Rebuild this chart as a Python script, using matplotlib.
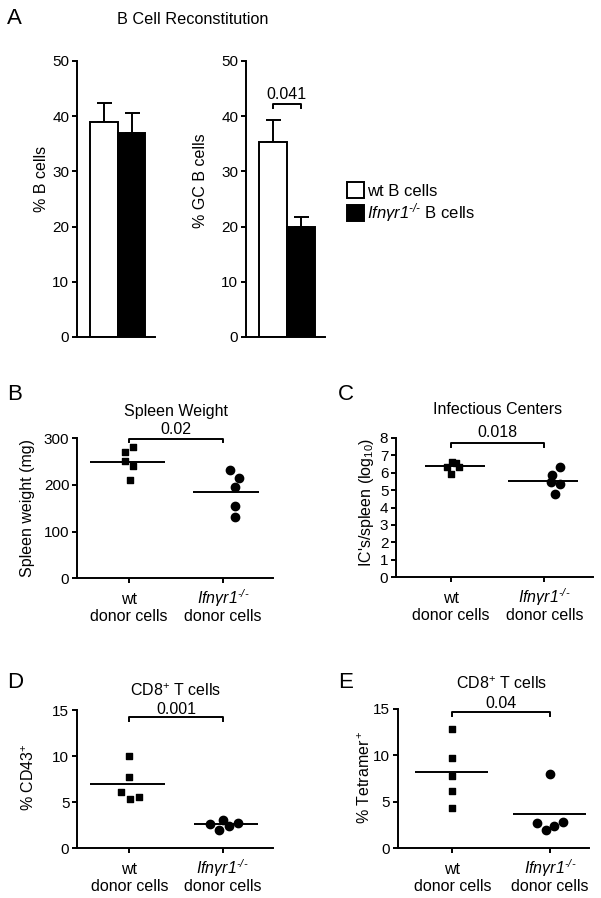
import matplotlib
matplotlib.use("Agg")
import matplotlib.pyplot as plt
from matplotlib.patches import Patch
from matplotlib.transforms import offset_copy

plt.rcParams['font.family'] = ['Liberation Sans', 'DejaVu Sans']
plt.rcParams['mathtext.fontset'] = 'custom'
plt.rcParams['mathtext.rm'] = 'Liberation Sans'
plt.rcParams['mathtext.it'] = 'Liberation Sans:italic'
plt.rcParams['mathtext.sf'] = 'Liberation Sans:italic'
plt.rcParams['mathtext.bf'] = 'Liberation Sans:bold'

# ---- data ----
# \mathsf is mapped to the italic face so the digit and hyphens stay italic
ko = '$\\mathsf{Ifn\\gamma r1}^{\\mathsf{\u2010/\u2010}}$'
bar_labels = ['wt B cells', ko + ' B cells']
cat_line1 = ['wt', ko]
cat_line2 = ['donor cells', 'donor cells']

bcell_mean = [38.9, 37.0]
bcell_err = [3.5, 3.6]
gc_mean = [35.3, 20.0]
gc_err = [4.0, 1.8]

spleen_wt = [271, 281, 251, 241, 211]
spleen_ko = [232, 216, 196, 156, 131]
spleen_means = [250, 186]

ic_wt = [6.34, 6.62, 6.56, 6.30, 5.92]
ic_ko = [6.30, 5.86, 5.48, 5.32, 4.77]
ic_means = [6.37, 5.51]

cd43_wt = [10.0, 7.7, 6.14, 5.35, 5.53]
cd43_ko = [2.60, 3.07, 2.46, 2.78, 1.99]
cd43_means = [6.94, 2.60]

tet_wt = [12.9, 9.69, 7.79, 6.21, 4.31]
tet_ko = [8.0, 2.69, 1.97, 2.44, 2.87]
tet_means = [8.18, 3.73]

W, H = 601, 898
LW = 1.4
FS = 11.5


def fx(px):
    return px / W


def fy(px):
    return 1 - px / H


def make_ax(x0, x1, ytop, ybot):
    return fig.add_axes([fx(x0), fy(ybot), fx(x1) - fx(x0), (ybot - ytop) / H])


def style(ax):
    for s in ['top', 'right']:
        ax.spines[s].set_visible(False)
    for s in ['left', 'bottom']:
        ax.spines[s].set_linewidth(LW)
    ax.tick_params(direction='out', length=3.5, width=LW, labelsize=11, pad=2)


fig = plt.figure(figsize=(W / 100, H / 100), dpi=100)

# ---- panel A ----
def bar_panel(ax, means, errs, ylabel, xlim, lab_xy):
    style(ax)
    ax.bar([0, 1], means, width=1.0, color=['white', 'black'],
           edgecolor='black', linewidth=LW, zorder=2)
    ax.errorbar([0, 1], means, yerr=[[0, 0], errs], fmt='none', ecolor='black',
                elinewidth=LW, capsize=5.4, capthick=LW, zorder=1)
    ax.set_xlim(*xlim)
    ax.set_ylim(0, 50)
    ax.set_yticks([0, 10, 20, 30, 40, 50])
    ax.set_xticks([])
    ax.set_ylabel(ylabel, fontsize=FS, ha='center', va='center')
    ax.yaxis.set_label_coords(*lab_xy)


axA1 = make_ax(77, 155, 61, 337)
bar_panel(axA1, bcell_mean, bcell_err, '% B cells', (-0.98, 1.85), (-0.46, 0.572))
axA2 = make_ax(246, 325, 61, 337)
bar_panel(axA2, gc_mean, gc_err, '% GC B cells', (-0.95, 1.875), (-0.576, 0.566))
axA2.plot([0, 0, 1, 1], [41.5, 42.3, 42.3, 41.5], color='black', lw=LW, clip_on=False)
axA2.text(0.5, 44.0, '0.041', ha='center', va='center', fontsize=FS)

fig.text(fx(7), fy(18), 'A', fontsize=16, ha='left', va='center')
fig.text(fx(193), fy(20), 'B Cell Reconstitution', fontsize=11.7, ha='center', va='center')

fig.legend(handles=[Patch(facecolor='white', edgecolor='black', linewidth=LW),
                    Patch(facecolor='black', edgecolor='black', linewidth=LW)],
           labels=bar_labels, loc='upper left', bbox_to_anchor=(fx(347), fy(182)),
           frameon=False, fontsize=12, handlelength=1.0, handleheight=1.1,
           handletextpad=0.2, labelspacing=0.15, borderpad=0, borderaxespad=0)


# ---- dot plots ----
def dot_panel(ax, wt, kov, means, wt_dx, ko_dx, spans, ylim, yticks, xlim,
              ylabel, lab_xy, title, title_y, pval, pval_y, br_y, br_h):
    style(ax)
    ax.scatter([0 + d for d in wt_dx], wt, marker='s', s=5.0 ** 2, color='black',
               zorder=3, clip_on=False)
    ax.scatter([1 + d for d in ko_dx], kov, marker='o', s=6.0 ** 2, color='black',
               zorder=3, clip_on=False)
    for i, m in enumerate(means):
        ax.hlines(m, i + spans[i][0], i + spans[i][1], color='black', lw=LW)
    ax.set_xlim(*xlim)
    ax.set_ylim(*ylim)
    ax.set_yticks(yticks)
    ax.set_xticks([0, 1])
    ax.set_xticklabels(['', ''])
    # two-line category labels with fixed baselines below the x axis
    t1 = offset_copy(ax.get_xaxis_transform(), fig=fig, y=-26, units='dots')
    t2 = offset_copy(ax.get_xaxis_transform(), fig=fig, y=-43, units='dots')
    for i in range(2):
        ax.text(i, 0, cat_line1[i], transform=t1, ha='center', va='baseline', fontsize=FS)
        ax.text(i, 0, cat_line2[i], transform=t2, ha='center', va='baseline', fontsize=FS)
    ax.set_ylabel(ylabel, fontsize=FS, ha='center', va='center')
    ax.yaxis.set_label_coords(*lab_xy)
    ax.plot([0, 0, 1, 1], [br_y - br_h, br_y, br_y, br_y - br_h], color='black',
            lw=LW, clip_on=False)
    ax.text(0.5, pval_y, pval, ha='center', va='center', fontsize=FS)
    ax.text(0.5, title_y, title, ha='center', va='center', fontsize=FS)


axB = make_ax(77, 273, 438.3, 578.3)
dot_panel(axB, spleen_wt, spleen_ko, spleen_means,
          [-0.043, 0.046, -0.043, 0.046, 0.01], [0.078, 0.166, 0.131, 0.131, 0.131],
          [(-0.41, 0.38), (-0.32, 0.38)], (0, 300), [0, 100, 200, 300], (-0.553, 1.532),
          'Spleen weight (mg)', (-0.253, 0.5), 'Spleen Weight', 357, '0.02', 318, 298, 6)
fig.text(fx(7), fy(395), 'B', fontsize=16, ha='left', va='center')

axC = make_ax(396, 593, 437.7, 577.3)
dot_panel(axC, ic_wt, ic_ko, ic_means,
          [-0.046, 0.007, 0.054, 0.089, -0.003], [0.168, 0.079, 0.069, 0.168, 0.118],
          [(-0.28, 0.36), (-0.39, 0.36)], (0, 8), list(range(9)), (-0.59, 1.52),
          r"IC's/spleen (log$_{10}$)", (-0.152, 0.536), 'Infectious Centers', 9.59,
          '0.018', 8.29, 7.68, 0.2)
fig.text(fx(338), fy(395), 'C', fontsize=16, ha='left', va='center')

axD = make_ax(77, 273, 710, 848.3)
dot_panel(axD, cd43_wt, cd43_ko, cd43_means,
          [0, 0, -0.093, 0.007, 0.107], [-0.136, 0.007, 0.071, 0.161, -0.039],
          [(-0.42, 0.38), (-0.31, 0.38)], (0, 15), [0, 5, 10, 15], (-0.56, 1.54),
          r'% CD43$^{+}$', (-0.247, 0.512), r'CD8$^{+}$ T cells', 17.1,
          '0.001', 15.1, 14.2, 0.4)
fig.text(fx(7), fy(682), 'D', fontsize=16, ha='left', va='center')

axE = make_ax(397.7, 589, 709, 848.3)
dot_panel(axE, tet_wt, tet_ko, tet_means,
          [0, 0, 0, 0, 0], [0, -0.136, -0.044, 0.041, 0.13],
          [(-0.38, 0.37), (-0.375, 0.37)], (0, 15), [0, 5, 10, 15], (-0.56, 1.40),
          r'% Tetramer$^+$', (-0.171, 0.507), r'CD8$^{+}$ T cells', 17.77,
          '0.04', 15.6, 14.7, 0.4)
fig.text(fx(338), fy(682), 'E', fontsize=16, ha='left', va='center')

fig.savefig('out.png', dpi=100)
